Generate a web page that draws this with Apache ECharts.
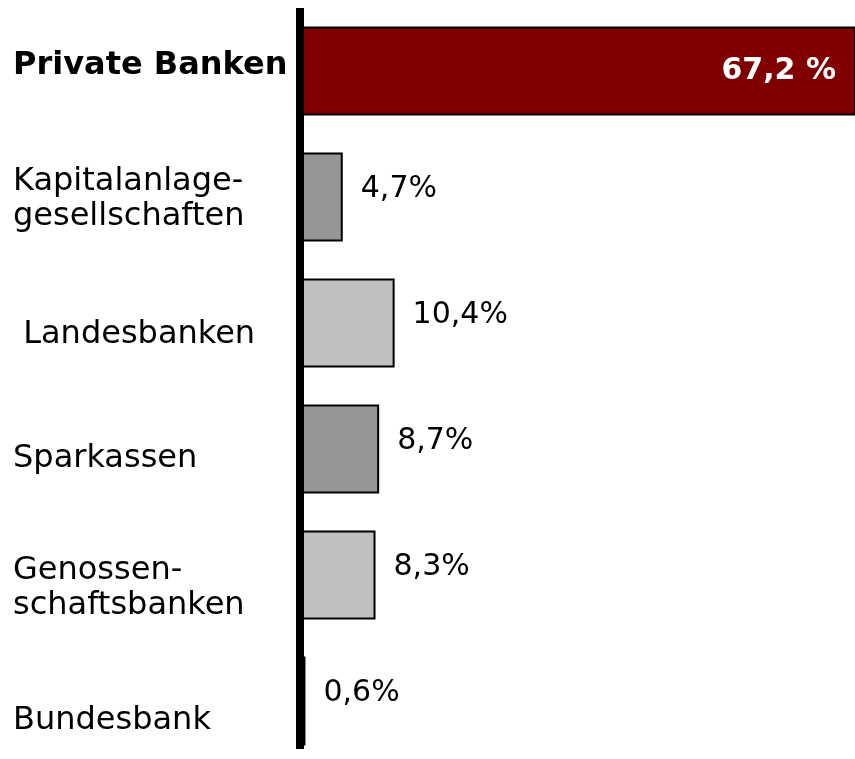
<!DOCTYPE html>
<html>
<head>
<meta charset="utf-8">
<script src="https://cdn.jsdelivr.net/npm/echarts@6/dist/echarts.min.js"></script>
<style>
  html, body { margin: 0; padding: 0; background: #fff; }
  #chart { width: 855px; height: 759px; }
</style>
</head>
<body>
<div id="chart"></div>
<script>
// Marktanteile nach Bankengruppen
const categories = ['Private Banken', 'Kapitalanlage-\ngesellschaften', ' Landesbanken', 'Sparkassen', 'Genossen-\nschaftsbanken', 'Bundesbank'];
const shares = [67.2, 4.7, 10.4, 8.7, 8.3, 0.6];
const valueLabels = ['67,2 %', '4,7%', '10,4%', '8,7%', '8,3%', '0,6%'];
const barColors = ['#800000', '#969696', '#c0c0c0', '#969696', '#c0c0c0', '#000000'];

// vertical nudge of the category labels (px, + = down)
const labelShift = [-5, 2, 12, 10, 13, 20];

const font = 'DejaVu Sans, Verdana, sans-serif';

// one rich style per category label, used to shift it up / down
const rich = {};
labelShift.forEach((d, i) => {
  rich['s' + i] = {
    fontSize: 32,
    lineHeight: 35,
    fontFamily: font,
    fontWeight: i === 0 ? 'bold' : 'normal',
    color: '#000',
    padding: d >= 0 ? [2 * d, 0, 0, 0] : [0, 0, -2 * d, 0]
  };
});

const barData = shares.map((v, i) => {
  const item = { value: v, itemStyle: { color: barColors[i] } };
  if (i === 0) {
    item.label = {
      position: 'insideRight',
      distance: 20,
      color: '#fff',
      fontWeight: 'bold',
      offset: [0, 0]
    };
  }
  return item;
});

const chart = echarts.init(document.getElementById('chart'));
chart.setOption({
  animation: false,
  grid: [
    { left: 300, right: 0, top: 8, bottom: -5, containLabel: false, outerBoundsMode: 'none' },
    { left: 300, right: 0, top: 8, bottom: 10, containLabel: false, outerBoundsMode: 'none' }
  ],
  xAxis: [
    { type: 'value', min: 0, max: 61, show: false },
    { type: 'value', gridIndex: 1, min: 0, max: 61, show: false }
  ],
  yAxis: [
    {
      type: 'category',
      inverse: true,
      data: categories,
      axisLine: { show: false },
      axisTick: { show: false },
      axisLabel: {
        align: 'left',
        margin: 287,
        fontSize: 32,
        lineHeight: 35,
        color: '#000',
        fontFamily: font,
        formatter: (val, idx) => val.split('\n').map(l => '{s' + idx + '|' + l + '}').join('\n'),
        rich: rich
      }
    },
    {
      type: 'category',
      gridIndex: 1,
      z: 5,
      data: categories,
      axisLine: { show: true, lineStyle: { color: '#000', width: 8, cap: 'butt' } },
      axisTick: { show: false },
      axisLabel: { show: false }
    }
  ],
  series: [{
    type: 'bar',
    data: barData,
    barWidth: 89,
    itemStyle: { borderColor: '#000', borderWidth: 2 },
    label: {
      show: true,
      position: 'right',
      distance: 18,
      offset: [0, -8],
      fontSize: 30,
      color: '#000',
      fontFamily: font,
      formatter: p => valueLabels[p.dataIndex]
    }
  }]
});
</script>
</body>
</html>
